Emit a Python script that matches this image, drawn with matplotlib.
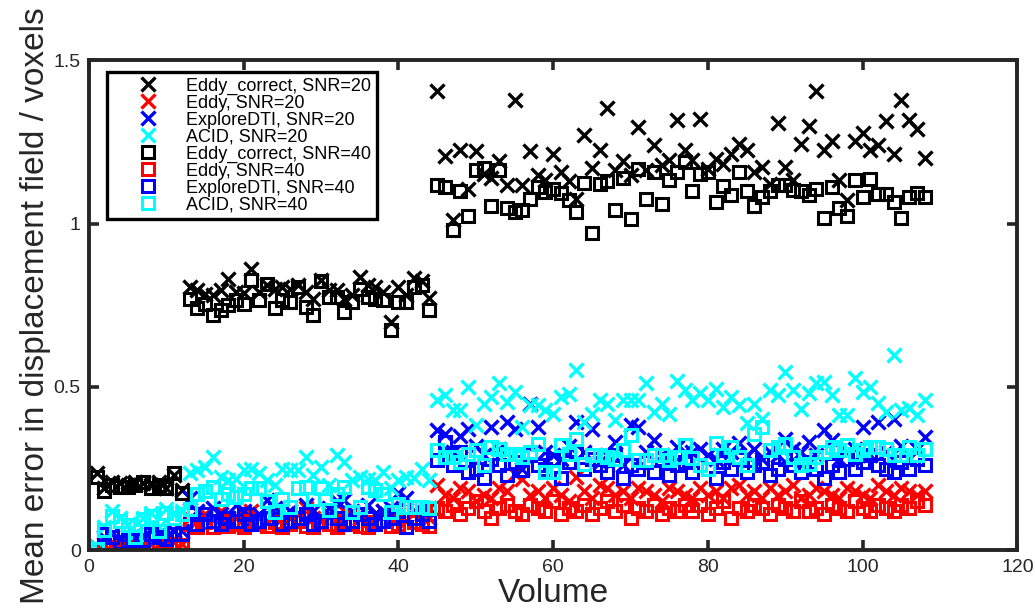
import numpy as np
import matplotlib
matplotlib.use('Agg')
import matplotlib.pyplot as plt

matplotlib.rcParams['font.family'] = ['Liberation Sans', 'DejaVu Sans']

# one value per volume (1..108), rows of 12 volumes
volumes = np.arange(1, 109)

eddy_correct_20 = [
    0.235, 0.19, 0.21, 0.205, 0.20, 0.21, 0.205, 0.20, 0.21, 0.19, 0.23, 0.185,
    0.806, 0.798, 0.784, 0.78, 0.796, 0.829, 0.79, 0.786, 0.862, 0.791, 0.811, 0.801,
    0.806, 0.80, 0.811, 0.791, 0.77, 0.827, 0.796, 0.796, 0.77, 0.781, 0.835, 0.811,
    0.806, 0.79, 0.699, 0.806, 0.78, 0.832, 0.825, 0.773, 1.406, 1.206, 1.010, 1.226,
    1.107, 1.221, 1.151, 1.14, 1.191, 1.117, 1.379, 1.117, 1.221, 1.15, 1.134, 1.214,
    1.158, 1.13, 1.076, 1.272, 1.17, 1.226, 1.355, 1.163, 1.191, 1.15, 1.296, 1.163,
    1.239, 1.178, 1.194, 1.316, 1.224, 1.194, 1.321, 1.168, 1.199, 1.181, 1.214, 1.242,
    1.226, 1.158, 1.173, 1.12, 1.309, 1.173, 1.134, 1.245, 1.298, 1.406, 1.224, 1.253,
    1.132, 1.071, 1.252, 1.277, 1.226, 1.239, 1.314, 1.214, 1.379, 1.316, 1.288, 1.201]

eddy_20 = [
    0.01, 0.02, 0.015, 0.01, 0.005, 0.02, 0.01, 0.02, 0.015, 0.02, 0.025, 0.02,
    0.10, 0.09, 0.11, 0.10, 0.12, 0.09, 0.10, 0.11, 0.12, 0.10, 0.09, 0.11,
    0.12, 0.10, 0.11, 0.13, 0.10, 0.09, 0.11, 0.10, 0.12, 0.11, 0.10, 0.09,
    0.11, 0.12, 0.10, 0.11, 0.09, 0.12, 0.11, 0.10, 0.20, 0.17, 0.16, 0.19,
    0.18, 0.15, 0.17, 0.16, 0.19, 0.18, 0.234, 0.219, 0.17, 0.18, 0.16, 0.19,
    0.17, 0.15, 0.224, 0.18, 0.16, 0.20, 0.19, 0.17, 0.18, 0.16, 0.19, 0.18,
    0.17, 0.15, 0.19, 0.18, 0.17, 0.16, 0.19, 0.17, 0.18, 0.16, 0.19, 0.20,
    0.17, 0.18, 0.16, 0.19, 0.17, 0.18, 0.20, 0.16, 0.17, 0.19, 0.18, 0.17,
    0.16, 0.19, 0.18, 0.17, 0.16, 0.20, 0.18, 0.17, 0.19, 0.18, 0.17, 0.18]

exploredti_20 = [
    0.01, 0.04, 0.05, 0.03, 0.04, 0.05, 0.04, 0.06, 0.05, 0.04, 0.06, 0.06,
    0.16, 0.12, 0.10, 0.13, 0.11, 0.10, 0.14, 0.12, 0.09, 0.11, 0.155, 0.13,
    0.10, 0.12, 0.11, 0.14, 0.12, 0.10, 0.13, 0.15, 0.155, 0.12, 0.10, 0.14,
    0.11, 0.12, 0.13, 0.175, 0.16, 0.12, 0.11, 0.13, 0.367, 0.357, 0.30, 0.349,
    0.372, 0.32, 0.29, 0.377, 0.31, 0.393, 0.372, 0.25, 0.449, 0.377, 0.30, 0.29,
    0.28, 0.32, 0.393, 0.30, 0.372, 0.27, 0.29, 0.331, 0.26, 0.382, 0.377, 0.30,
    0.336, 0.29, 0.28, 0.316, 0.30, 0.30, 0.31, 0.29, 0.28, 0.31, 0.30, 0.327,
    0.29, 0.31, 0.28, 0.30, 0.29, 0.342, 0.31, 0.30, 0.33, 0.29, 0.367, 0.337,
    0.28, 0.30, 0.31, 0.378, 0.29, 0.393, 0.30, 0.403, 0.32, 0.28, 0.31, 0.347]

acid_20 = [
    0.01, 0.07, 0.12, 0.10, 0.08, 0.05, 0.10, 0.115, 0.07, 0.125, 0.11, 0.12,
    0.235, 0.245, 0.255, 0.286, 0.224, 0.214, 0.219, 0.245, 0.25, 0.235, 0.214, 0.20,
    0.25, 0.245, 0.245, 0.286, 0.23, 0.255, 0.20, 0.291, 0.27, 0.214, 0.224, 0.219,
    0.214, 0.24, 0.19, 0.214, 0.224, 0.22, 0.25, 0.214, 0.459, 0.474, 0.428, 0.428,
    0.50, 0.382, 0.449, 0.469, 0.512, 0.454, 0.484, 0.377, 0.444, 0.444, 0.43, 0.418,
    0.469, 0.479, 0.551, 0.393, 0.418, 0.459, 0.449, 0.398, 0.461, 0.461, 0.461, 0.512,
    0.423, 0.449, 0.418, 0.518, 0.49, 0.459, 0.48, 0.459, 0.495, 0.439, 0.469, 0.444,
    0.388, 0.449, 0.403, 0.492, 0.475, 0.546, 0.492, 0.431, 0.48, 0.512, 0.515, 0.475,
    0.413, 0.413, 0.526, 0.485, 0.50, 0.451, 0.424, 0.597, 0.429, 0.434, 0.413, 0.459]

eddy_correct_40 = [
    0.225, 0.18, 0.20, 0.195, 0.195, 0.20, 0.21, 0.19, 0.20, 0.19, 0.235, 0.175,
    0.770, 0.740, 0.755, 0.719, 0.735, 0.75, 0.765, 0.755, 0.827, 0.765, 0.816, 0.740,
    0.765, 0.760, 0.806, 0.745, 0.719, 0.825, 0.775, 0.775, 0.730, 0.760, 0.801, 0.775,
    0.770, 0.765, 0.673, 0.760, 0.760, 0.806, 0.811, 0.735, 1.117, 1.112, 0.979, 1.100,
    1.023, 1.163, 1.171, 1.054, 1.163, 1.049, 1.035, 1.040, 1.074, 1.112, 1.097, 1.107,
    1.093, 1.071, 1.035, 1.124, 0.972, 1.122, 1.13, 1.040, 1.140, 1.015, 1.168, 1.076,
    1.158, 1.061, 1.132, 1.158, 1.188, 1.100, 1.151, 1.158, 1.066, 1.114, 1.086, 1.158,
    1.100, 1.054, 1.081, 1.100, 1.117, 1.117, 1.102, 1.100, 1.086, 1.107, 1.018, 1.112,
    1.049, 1.023, 1.132, 1.081, 1.137, 1.091, 1.091, 1.066, 1.018, 1.081, 1.093, 1.081]

eddy_40 = [
    0.005, 0.01, 0.01, 0.005, 0.0, 0.01, 0.005, 0.01, 0.01, 0.015, 0.02, 0.015,
    0.08, 0.07, 0.085, 0.07, 0.09, 0.075, 0.08, 0.07, 0.09, 0.08, 0.075, 0.085,
    0.07, 0.08, 0.09, 0.075, 0.07, 0.085, 0.08, 0.07, 0.09, 0.08, 0.075, 0.07,
    0.085, 0.09, 0.075, 0.08, 0.07, 0.085, 0.08, 0.075, 0.13, 0.12, 0.14, 0.11,
    0.13, 0.15, 0.12, 0.10, 0.13, 0.14, 0.12, 0.11, 0.14, 0.13, 0.12, 0.15,
    0.11, 0.13, 0.12, 0.14, 0.11, 0.13, 0.15, 0.12, 0.14, 0.10, 0.13, 0.12,
    0.14, 0.11, 0.13, 0.12, 0.14, 0.12, 0.14, 0.11, 0.13, 0.15, 0.10, 0.13,
    0.12, 0.14, 0.13, 0.11, 0.14, 0.13, 0.12, 0.15, 0.12, 0.13, 0.11, 0.14,
    0.13, 0.12, 0.15, 0.13, 0.12, 0.14, 0.13, 0.12, 0.14, 0.13, 0.15, 0.14]

exploredti_40 = [
    0.005, 0.05, 0.04, 0.025, 0.03, 0.035, 0.03, 0.05, 0.04, 0.035, 0.05, 0.05,
    0.11, 0.08, 0.11, 0.09, 0.08, 0.10, 0.09, 0.11, 0.08, 0.09, 0.10, 0.12,
    0.08, 0.09, 0.10, 0.11, 0.08, 0.09, 0.12, 0.10, 0.08, 0.09, 0.11, 0.10,
    0.08, 0.09, 0.10, 0.12, 0.07, 0.10, 0.11, 0.09, 0.275, 0.331, 0.26, 0.30,
    0.24, 0.25, 0.22, 0.28, 0.26, 0.23, 0.27, 0.245, 0.29, 0.26, 0.25, 0.28,
    0.22, 0.27, 0.30, 0.25, 0.28, 0.26, 0.24, 0.29, 0.22, 0.26, 0.25, 0.27,
    0.24, 0.28, 0.23, 0.26, 0.27, 0.24, 0.26, 0.25, 0.22, 0.27, 0.25, 0.28,
    0.24, 0.26, 0.27, 0.23, 0.25, 0.28, 0.26, 0.24, 0.27, 0.25, 0.22, 0.26,
    0.24, 0.28, 0.25, 0.27, 0.29, 0.26, 0.25, 0.24, 0.27, 0.25, 0.28, 0.26]

acid_40 = [
    0.003, 0.061, 0.105, 0.09, 0.076, 0.041, 0.097, 0.105, 0.059, 0.115, 0.10, 0.11,
    0.125, 0.173, 0.18, 0.194, 0.158, 0.173, 0.163, 0.173, 0.189, 0.189, 0.15, 0.117,
    0.158, 0.133, 0.189, 0.194, 0.158, 0.189, 0.122, 0.173, 0.194, 0.117, 0.133, 0.194,
    0.184, 0.173, 0.117, 0.143, 0.133, 0.133, 0.133, 0.128, 0.306, 0.286, 0.286, 0.27,
    0.296, 0.306, 0.26, 0.316, 0.311, 0.296, 0.296, 0.286, 0.30, 0.326, 0.24, 0.24,
    0.321, 0.296, 0.342, 0.265, 0.291, 0.291, 0.286, 0.28, 0.306, 0.352, 0.275, 0.275,
    0.291, 0.291, 0.275, 0.286, 0.321, 0.281, 0.26, 0.25, 0.327, 0.291, 0.316, 0.286,
    0.26, 0.357, 0.378, 0.306, 0.316, 0.325, 0.286, 0.26, 0.265, 0.286, 0.30, 0.316,
    0.306, 0.322, 0.296, 0.306, 0.316, 0.316, 0.311, 0.29, 0.291, 0.316, 0.291, 0.311]

series = [
    (eddy_correct_20, 'x', '#000000', 'Eddy_correct, SNR=20'),
    (eddy_20, 'x', '#ff0000', 'Eddy, SNR=20'),
    (exploredti_20, 'x', '#0000ff', 'ExploreDTI, SNR=20'),
    (acid_20, 'x', '#00ffff', 'ACID, SNR=20'),
    (eddy_correct_40, 's', '#000000', 'Eddy_correct, SNR=40'),
    (eddy_40, 's', '#ff0000', 'Eddy, SNR=40'),
    (exploredti_40, 's', '#0000ff', 'ExploreDTI, SNR=40'),
    (acid_40, 's', '#00ffff', 'ACID, SNR=40'),
]

axcol = '#262626'

fig = plt.figure(figsize=(10.35, 6.08), dpi=100)
ax = fig.add_axes([0.086, 0.095, 0.897, 0.806])

for vals, mk, col, lab in series:
    if mk == 'x':
        ax.plot(volumes, vals, 'x', color=col, markersize=10,
                markeredgewidth=2.4, label=lab)
    else:
        ax.plot(volumes, vals, 's', color=col, markerfacecolor='none',
                markersize=8.5, markeredgewidth=2.2, label=lab)

ax.set_xlim(0, 120)
ax.set_ylim(0, 1.5)
ax.set_xticks([0, 20, 40, 60, 80, 100, 120])
ax.set_yticks([0, 0.5, 1, 1.5])
ax.set_yticklabels(['0', '0.5', '1', '1.5'])
ax.tick_params(direction='in', length=7, width=2.6, top=True, right=True,
               labelsize=14, colors=axcol, pad=6)
for sp in ax.spines.values():
    sp.set_linewidth(2.8)
    sp.set_color(axcol)

ax.set_xlabel('Volume', fontsize=24, color=axcol, labelpad=2)
ax.set_ylabel('Mean error in displacement field / voxels', fontsize=24,
              color=axcol, labelpad=2)

leg = ax.legend(loc='upper left', bbox_to_anchor=(0.019, 0.976),
                borderaxespad=0, fontsize=13, frameon=True, fancybox=False,
                numpoints=1, handlelength=4.0, handletextpad=0.1,
                labelspacing=0.0, borderpad=0.3, framealpha=1)
leg.get_frame().set_edgecolor('k')
leg.get_frame().set_linewidth(2.4)

plt.savefig('out.png', dpi=100)
